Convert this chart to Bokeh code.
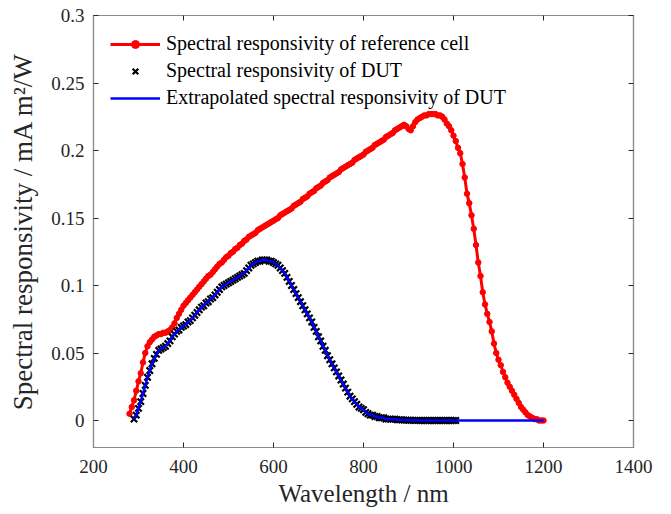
from bokeh.plotting import figure
from bokeh.models import LinearAxis, Range1d, Legend, LegendItem, FixedTicker
from bokeh.embed import file_html
from bokeh.resources import INLINE

# Reference cell spectral responsivity (280..1200 nm, 5 nm step)
ref_wl = list(range(280, 1205, 5))
ref_sr = [
    0.005, 0.010, 0.015, 0.022, 0.029, 0.035, 0.043, 0.050, 0.055, 0.058,
    0.060, 0.062, 0.063, 0.064, 0.064, 0.065, 0.065, 0.066, 0.067, 0.069,
    0.072, 0.076, 0.079, 0.082, 0.085, 0.087, 0.089, 0.091, 0.093, 0.095,
    0.097, 0.099, 0.101, 0.103, 0.105, 0.107, 0.108, 0.110, 0.112, 0.114,
    0.116, 0.117, 0.119, 0.121, 0.122, 0.124, 0.125, 0.127, 0.128, 0.130,
    0.131, 0.133, 0.134, 0.136, 0.137, 0.138, 0.139, 0.141, 0.142, 0.143,
    0.144, 0.145, 0.146, 0.147, 0.148, 0.149, 0.150, 0.152, 0.153, 0.154,
    0.155, 0.156, 0.157, 0.159, 0.160, 0.161, 0.162, 0.164, 0.165, 0.166,
    0.168, 0.169, 0.170, 0.172, 0.173, 0.174, 0.176, 0.177, 0.178, 0.180,
    0.181, 0.182, 0.183, 0.184, 0.186, 0.187, 0.188, 0.189, 0.190, 0.191,
    0.193, 0.194, 0.195, 0.196, 0.197, 0.199, 0.200, 0.201, 0.202, 0.204,
    0.205, 0.206, 0.207, 0.208, 0.210, 0.211, 0.212, 0.213, 0.215, 0.216,
    0.217, 0.218, 0.219, 0.218, 0.216, 0.215, 0.218, 0.221, 0.223, 0.224,
    0.225, 0.226, 0.226, 0.227, 0.227, 0.227, 0.227, 0.226, 0.226, 0.225,
    0.223, 0.220, 0.218, 0.215, 0.211, 0.207, 0.202, 0.198, 0.190, 0.180,
    0.168, 0.161, 0.152, 0.142, 0.130, 0.117, 0.107, 0.095, 0.086, 0.079,
    0.073, 0.066, 0.057, 0.050, 0.045, 0.041, 0.036, 0.032, 0.028, 0.025,
    0.022, 0.019, 0.016, 0.013, 0.010, 0.008, 0.006, 0.004, 0.003, 0.002,
    0.001, 0.001, 0.000, 0.000, 0.000,
]

# DUT spectral responsivity (290..1005 nm, 5 nm step)
dut_wl = list(range(290, 1010, 5))
dut_sr = [
    0.001, 0.004, 0.009, 0.014, 0.020, 0.026, 0.032, 0.037, 0.042, 0.046,
    0.049, 0.052, 0.053, 0.054, 0.055, 0.057, 0.059, 0.062, 0.064, 0.066,
    0.067, 0.069, 0.070, 0.071, 0.073, 0.074, 0.076, 0.078, 0.080, 0.082,
    0.084, 0.085, 0.087, 0.088, 0.090, 0.091, 0.093, 0.095, 0.097, 0.099,
    0.100, 0.101, 0.102, 0.103, 0.104, 0.105, 0.106, 0.107, 0.108, 0.109,
    0.111, 0.113, 0.115, 0.116, 0.117, 0.118, 0.118, 0.119, 0.119, 0.119,
    0.118, 0.118, 0.117, 0.116, 0.115, 0.113, 0.111, 0.109, 0.106, 0.103,
    0.100, 0.097, 0.094, 0.091, 0.088, 0.085, 0.082, 0.079, 0.076, 0.073,
    0.069, 0.066, 0.062, 0.059, 0.055, 0.052, 0.048, 0.045, 0.042, 0.039,
    0.036, 0.033, 0.030, 0.027, 0.024, 0.021, 0.018, 0.016, 0.014, 0.012,
    0.010, 0.009, 0.008, 0.006, 0.005, 0.004, 0.004, 0.003, 0.003, 0.002,
    0.002, 0.002, 0.001, 0.001, 0.001, 0.001, 0.001, 0.0005, 0.0005, 0.0005,
    0.0003, 0.0003, 0.0002, 0.0002, 0.0001, 0.0001, 0.0001, 0.0, 0.0, 0.0,
    0.0, 0.0, 0.0, 0.0, 0.0, 0.0, 0.0, 0.0, 0.0, 0.0,
    0.0, 0.0, 0.0, 0.0,
]

# Extrapolation beyond the measured DUT range
ext_wl = [1200]
ext_sr = [0.0]

x_ticks = [200, 400, 600, 800, 1000, 1200, 1400]
y_ticks = [0, 0.05, 0.1, 0.15, 0.2, 0.25, 0.3]
y_tick_labels = {0: "0", 0.05: "0.05", 0.1: "0.1", 0.15: "0.15", 0.2: "0.2", 0.25: "0.25", 0.3: "0.3"}

FONT = "Liberation Serif"
AX_LINE = "#8c8c8c"
TICK = "#262626"

p = figure(width=671, height=514, output_backend="svg", toolbar_location=None,
           x_range=Range1d(200, 1400), y_range=Range1d(-0.02, 0.3),
           min_border_left=93, min_border_right=38, min_border_top=15, min_border_bottom=67)
p.xgrid.visible = False
p.ygrid.visible = False
p.outline_line_color = AX_LINE
p.outline_line_width = 1.2
p.background_fill_color = "white"
p.border_fill_color = "white"

r_line = p.line(ref_wl, ref_sr, line_color="#ff0000", line_width=3)
r_pts = p.scatter(ref_wl, ref_sr, marker="circle", size=5.5, fill_color="#ff0000", line_color="#ff0000")
d_pts = p.scatter(dut_wl, dut_sr, marker="x", size=9, line_color="black", line_width=2.2)
b_line = p.line(dut_wl + ext_wl, dut_sr + ext_sr, line_color="#0000ff", line_width=2.5)


def style_axis(ax, labels=True):
    ax.axis_line_color = AX_LINE
    ax.axis_line_width = 1.2
    ax.major_tick_in = 5
    ax.major_tick_out = 0
    ax.minor_tick_line_color = None
    ax.major_tick_line_color = TICK
    ax.major_label_text_font = FONT
    ax.major_label_text_color = TICK
    ax.axis_label_text_font = FONT
    ax.axis_label_text_font_style = "normal"
    ax.axis_label_text_color = TICK
    ax.major_label_text_font_size = "19px"
    if not labels:
        ax.major_label_text_font_size = "8px"
        ax.major_label_standoff = 0


xa = p.xaxis[0]
xa.ticker = FixedTicker(ticks=x_ticks)
xa.axis_label = "Wavelength / nm"
style_axis(xa)
xa.axis_label_text_font_size = "25px"
xa.major_label_standoff = 12
xa.axis_label_standoff = 4

ya = p.yaxis[0]
ya.ticker = FixedTicker(ticks=y_ticks)
ya.major_label_overrides = y_tick_labels
ya.axis_label = "Spectral responsivity / mA m²/W"
style_axis(ya)
ya.axis_label_text_font_size = "27px"
ya.major_label_standoff = 9
ya.axis_label_standoff = 10

top = LinearAxis(ticker=FixedTicker(ticks=x_ticks),
                 major_label_overrides={t: "" for t in x_ticks})
style_axis(top, labels=False)
p.add_layout(top, "above")
right = LinearAxis(ticker=FixedTicker(ticks=y_ticks),
                   major_label_overrides={t: "" for t in y_ticks})
style_axis(right, labels=False)
p.add_layout(right, "right")

legend = Legend(items=[
    LegendItem(label="Spectral responsivity of reference cell", renderers=[r_line, r_pts]),
    LegendItem(label="Spectral responsivity of DUT", renderers=[d_pts]),
    LegendItem(label="Extrapolated spectral responsivity of DUT", renderers=[b_line]),
], location="top_left")
legend.label_text_font = FONT
legend.label_text_font_size = "20px"
legend.label_text_color = "black"
legend.border_line_alpha = 0
legend.background_fill_alpha = 0
legend.glyph_width = 50
legend.glyph_height = 20
legend.label_height = 20
legend.spacing = 4
legend.padding = 16
legend.margin = 1
legend.label_standoff = 6
p.add_layout(legend)

open("out.html", "w").write(file_html(p, INLINE))
